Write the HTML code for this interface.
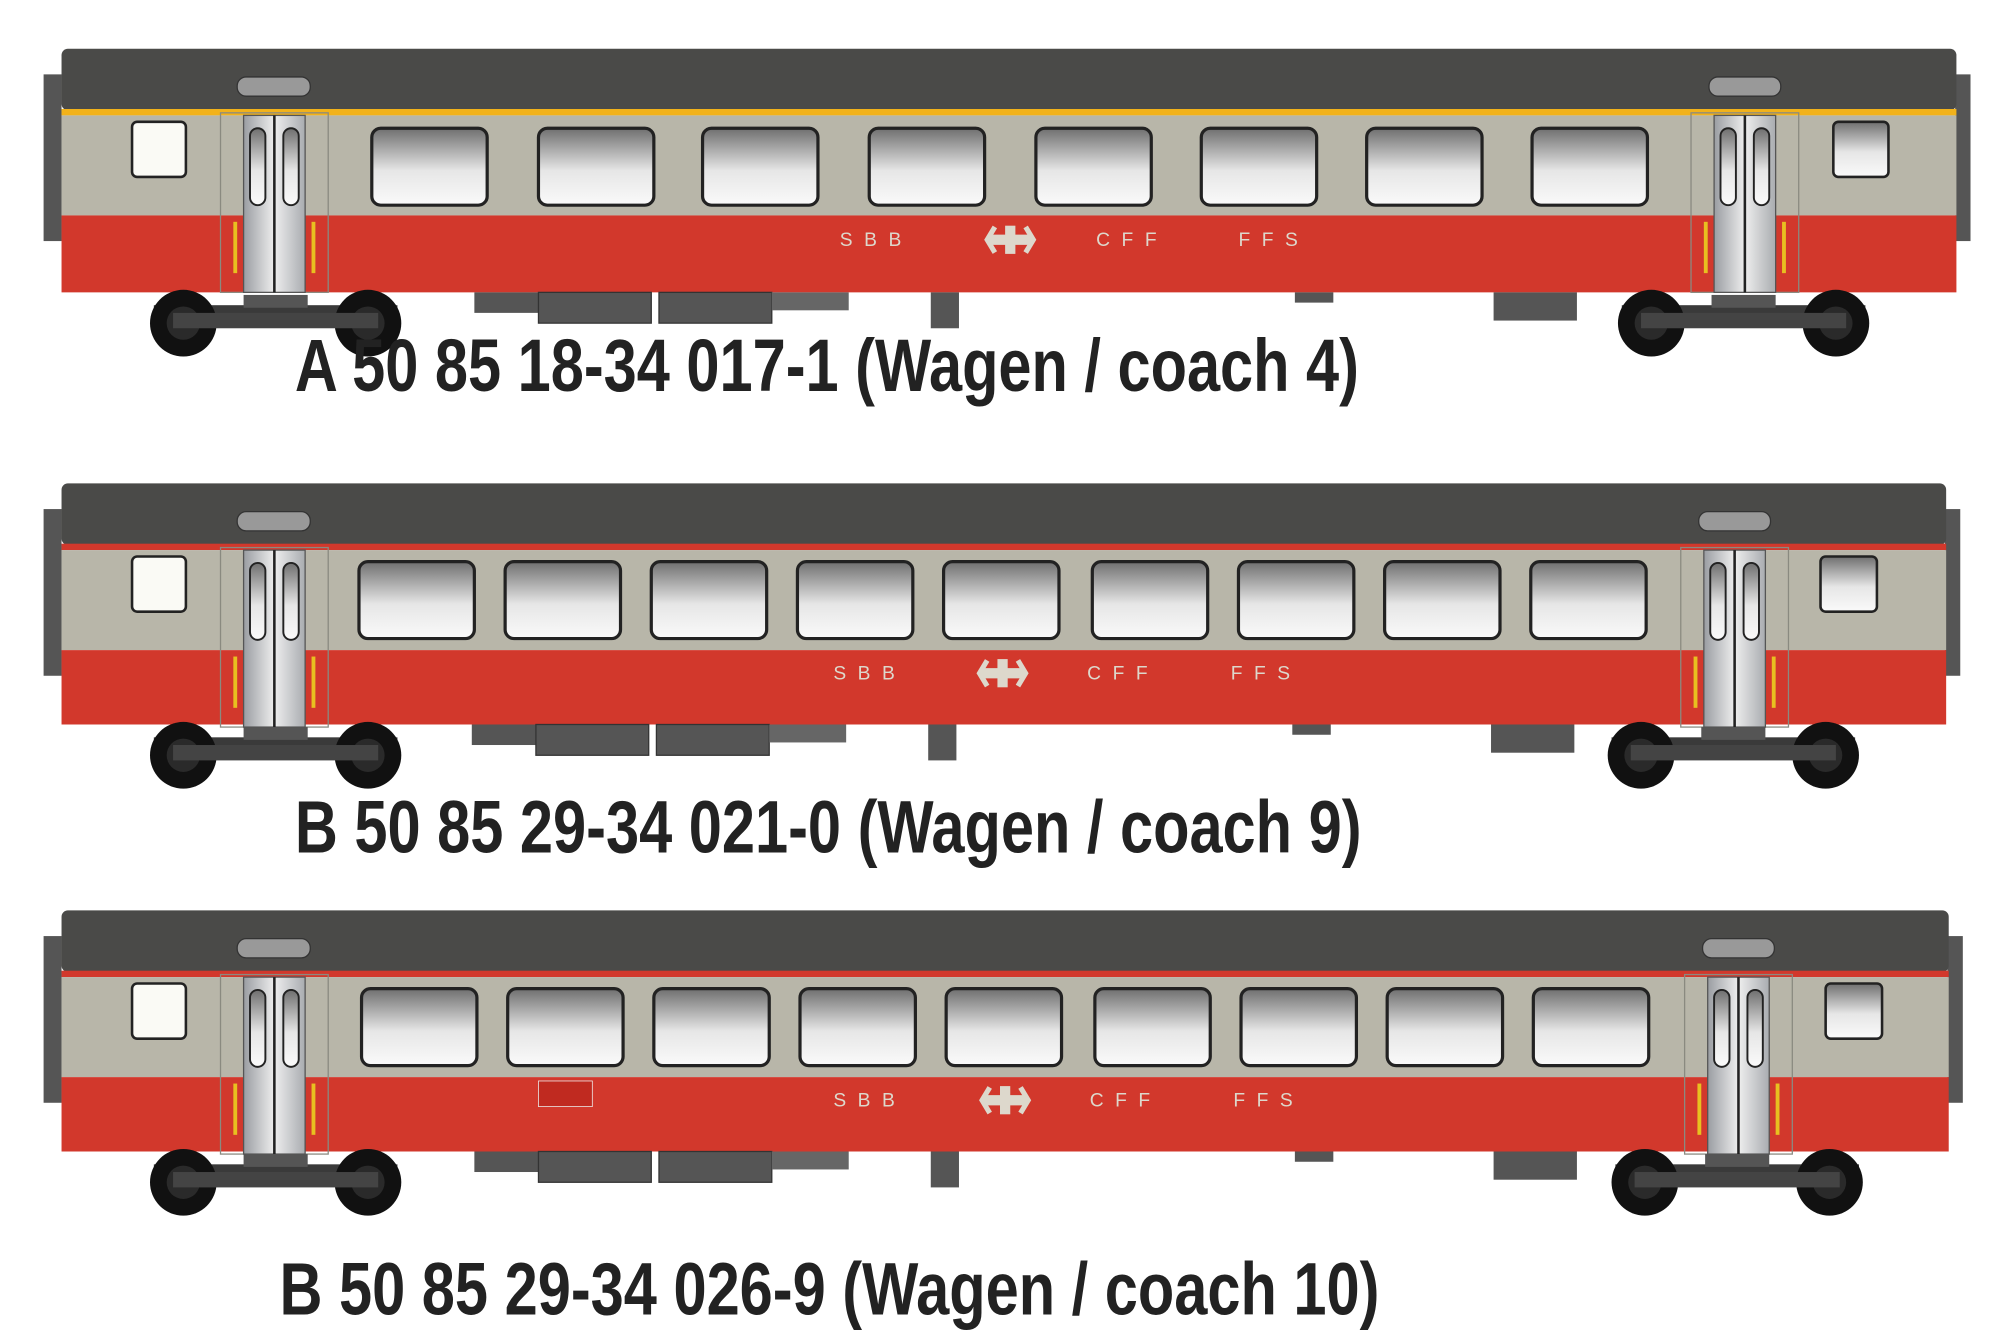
<!DOCTYPE html>
<html><head><meta charset="utf-8"><style>
html,body{margin:0;padding:0;background:#fff;width:2000px;height:1340px;overflow:hidden}
svg{display:block}
</style></head><body>
<svg width="2000" height="1340" viewBox="0 0 1560 1045" preserveAspectRatio="none" xmlns="http://www.w3.org/2000/svg">
<defs>
<linearGradient id="wg" x1="0" y1="0" x2="0" y2="1"><stop offset="0" stop-color="#6f6f6f"/><stop offset="0.55" stop-color="#e6e6e6"/><stop offset="1" stop-color="#fafafa"/></linearGradient>
<linearGradient id="dg" x1="0" y1="0" x2="1" y2="0"><stop offset="0" stop-color="#9a9da2"/><stop offset="0.5" stop-color="#eeeeee"/><stop offset="1" stop-color="#a9acb0"/></linearGradient>
<g id="win"><rect x="0" y="0" width="90" height="60" rx="7" fill="url(#wg)" stroke="#222" stroke-width="2.5"/></g>
<g id="door">
<rect x="-18" y="0" width="84" height="140" fill="none" stroke="#8a8a80" stroke-width="1"/>
<rect x="0" y="2" width="48" height="138" fill="url(#dg)" stroke="#555" stroke-width="1"/>
<line x1="24" y1="2" x2="24" y2="140" stroke="#222" stroke-width="2"/>
<rect x="5" y="12" width="12" height="60" rx="6" fill="url(#wg)" stroke="#222" stroke-width="1.5"/>
<rect x="31" y="12" width="12" height="60" rx="6" fill="url(#wg)" stroke="#222" stroke-width="1.5"/>
<rect x="-8" y="85" width="3" height="40" fill="#e8c020"/>
<rect x="53" y="85" width="3" height="40" fill="#e8c020"/>
</g>
<g id="bogie">
<rect x="5" y="-14" width="190" height="16" fill="#3a3a3a"/>
<rect x="75" y="-22" width="50" height="10" fill="#555"/>
<circle cx="28" cy="0" r="26" fill="#111"/>
<circle cx="28" cy="0" r="13" fill="#2a2a2a"/>
<circle cx="172" cy="0" r="26" fill="#111"/>
<circle cx="172" cy="0" r="13" fill="#2a2a2a"/>
<rect x="20" y="-8" width="160" height="12" fill="#444"/>
</g>
<g id="under">
<rect x="370" y="0" width="50" height="16" fill="#555"/>
<rect x="420" y="0" width="88" height="24" fill="#555" stroke="#333"/>
<rect x="514" y="0" width="88" height="24" fill="#555" stroke="#333"/>
<rect x="602" y="0" width="60" height="14" fill="#666"/>
<rect x="726" y="0" width="22" height="28" fill="#555"/>
<rect x="1010" y="0" width="30" height="8" fill="#555"/>
<rect x="1165" y="0" width="65" height="22" fill="#555"/>
</g>
<g id="logo">
<rect x="0" y="-4" width="36" height="8" fill="#ddd8cc" rx="2"/><rect x="14" y="-11" width="8" height="22" fill="#ddd8cc"/>
<path d="M6 -10 L0 0 L6 10 M30 -10 L36 0 L30 10" stroke="#ddd8cc" stroke-width="4" fill="none"/>
</g>
</defs>
<style>
.lbl{font-family:"Liberation Sans Narrow","Liberation Sans",sans-serif;font-weight:bold;fill:#222}
.sbb{font-family:"Liberation Sans",sans-serif;font-size:15px;fill:#ddd8cc;letter-spacing:9px}
</style>

<!-- COACH 1 -->
<g transform="translate(0,38)">
<rect x="34" y="20" width="14" height="130" fill="#555"/>
<rect x="1525" y="20" width="12" height="130" fill="#555"/>
<rect x="48" y="0" width="1478" height="48" rx="5" fill="#4a4a48"/>
<rect x="48" y="47" width="1478" height="5" fill="#f2b21a"/>
<rect x="48" y="52" width="1478" height="78" fill="#b8b6a9"/>
<rect x="48" y="130" width="1478" height="60" fill="#d2382c"/>
<rect x="185" y="22" width="57" height="15" rx="7" fill="#999" stroke="#333"/>
<rect x="1333" y="22" width="56" height="15" rx="7" fill="#999" stroke="#333"/>
<rect x="103" y="57" width="42" height="43" rx="4" fill="#fafaf5" stroke="#222" stroke-width="2"/>
<rect x="1430" y="57" width="43" height="43" rx="4" fill="url(#wg)" stroke="#222" stroke-width="2"/>
<use href="#door" x="190" y="50"/><use href="#door" x="1337" y="50"/>
<use href="#win" x="290" y="62"/><use href="#win" x="420" y="62"/><use href="#win" x="548" y="62"/><use href="#win" x="678" y="62"/><use href="#win" x="808" y="62"/><use href="#win" x="937" y="62"/><use href="#win" x="1066" y="62"/><use href="#win" x="1195" y="62"/>
<text x="655" y="154" class="sbb">SBB</text><use href="#logo" x="770" y="149"/><text x="855" y="154" class="sbb">CFF</text><text x="966" y="154" class="sbb">FFS</text>
<use href="#under" x="0" y="190"/>
<use href="#bogie" x="115" y="214"/><use href="#bogie" x="1260" y="214"/>
</g>
<text class="lbl" x="230" y="305" font-size="58" textLength="830" lengthAdjust="spacingAndGlyphs">A 50 85 18-34 017-1 (Wagen / coach 4)</text>

<!-- COACH 2 -->
<g transform="translate(0,377)">
<rect x="34" y="20" width="14" height="130" fill="#555"/>
<rect x="1517" y="20" width="12" height="130" fill="#555"/>
<rect x="48" y="0" width="1470" height="48" rx="5" fill="#4a4a48"/>
<rect x="48" y="47" width="1470" height="5" fill="#d2382c"/>
<rect x="48" y="52" width="1470" height="78" fill="#b8b6a9"/>
<rect x="48" y="130" width="1470" height="58" fill="#d2382c"/>
<rect x="185" y="22" width="57" height="15" rx="7" fill="#999" stroke="#333"/>
<rect x="1325" y="22" width="56" height="15" rx="7" fill="#999" stroke="#333"/>
<rect x="103" y="57" width="42" height="43" rx="4" fill="#fafaf5" stroke="#222" stroke-width="2"/>
<rect x="1420" y="57" width="44" height="43" rx="4" fill="url(#wg)" stroke="#222" stroke-width="2"/>
<use href="#door" x="190" y="50"/><use href="#door" x="1329" y="50"/>
<use href="#win" x="280" y="61"/><use href="#win" x="394" y="61"/><use href="#win" x="508" y="61"/><use href="#win" x="622" y="61"/><use href="#win" x="736" y="61"/><use href="#win" x="852" y="61"/><use href="#win" x="966" y="61"/><use href="#win" x="1080" y="61"/><use href="#win" x="1194" y="61"/>
<text x="650" y="153" class="sbb">SBB</text><use href="#logo" x="764" y="148"/><text x="848" y="153" class="sbb">CFF</text><text x="960" y="153" class="sbb">FFS</text>
<use href="#under" x="-2" y="188"/>
<use href="#bogie" x="115" y="212"/><use href="#bogie" x="1252" y="212"/>
</g>
<text class="lbl" x="230" y="665" font-size="58" textLength="832" lengthAdjust="spacingAndGlyphs">B 50 85 29-34 021-0 (Wagen / coach 9)</text>

<!-- COACH 3 -->
<g transform="translate(0,710)">
<rect x="34" y="20" width="14" height="130" fill="#555"/>
<rect x="1519" y="20" width="12" height="130" fill="#555"/>
<rect x="48" y="0" width="1472" height="48" rx="5" fill="#4a4a48"/>
<rect x="48" y="47" width="1472" height="5" fill="#d2382c"/>
<rect x="48" y="52" width="1472" height="78" fill="#b8b6a9"/>
<rect x="48" y="130" width="1472" height="58" fill="#d2382c"/>
<rect x="185" y="22" width="57" height="15" rx="7" fill="#999" stroke="#333"/>
<rect x="1328" y="22" width="56" height="15" rx="7" fill="#999" stroke="#333"/>
<rect x="103" y="57" width="42" height="43" rx="4" fill="#fafaf5" stroke="#222" stroke-width="2"/>
<rect x="1424" y="57" width="44" height="43" rx="4" fill="url(#wg)" stroke="#222" stroke-width="2"/>
<use href="#door" x="190" y="50"/><use href="#door" x="1332" y="50"/>
<use href="#win" x="282" y="61"/><use href="#win" x="396" y="61"/><use href="#win" x="510" y="61"/><use href="#win" x="624" y="61"/><use href="#win" x="738" y="61"/><use href="#win" x="854" y="61"/><use href="#win" x="968" y="61"/><use href="#win" x="1082" y="61"/><use href="#win" x="1196" y="61"/>
<text x="650" y="153" class="sbb">SBB</text><use href="#logo" x="766" y="148"/><text x="850" y="153" class="sbb">CFF</text><text x="962" y="153" class="sbb">FFS</text>
<rect x="420" y="133" width="42" height="20" fill="#c02a20" stroke="#eee" stroke-width="0.6"/>
<use href="#under" x="0" y="188"/>
<use href="#bogie" x="115" y="212"/><use href="#bogie" x="1255" y="212"/>
</g>
<text class="lbl" x="218" y="1025" font-size="58" textLength="858" lengthAdjust="spacingAndGlyphs">B 50 85 29-34 026-9 (Wagen / coach 10)</text>
</svg>
</body></html>
